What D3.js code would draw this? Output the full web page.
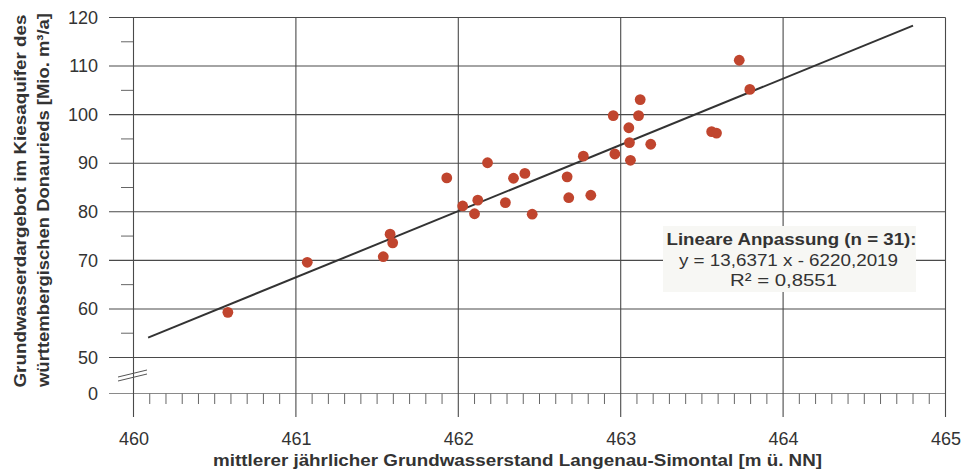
<!DOCTYPE html>
<meta charset="utf-8">
<title>Grundwasserdargebot vs. Grundwasserstand</title>
<style>
    body { margin: 0; background: #fff; }
    svg { display: block; }
    text { font-family: "Liberation Sans", Arial, sans-serif; fill: #333; }
    .tick text { font-size: 18px; }
    .title { font-size: 17px; font-weight: bold; }
    .note { font-size: 17px; }
</style>

<svg width="961" height="470"></svg>

<script src="https://cdn.jsdelivr.net/npm/d3@7"></script>
<script>

    // mittlerer jaehrlicher Grundwasserstand [m ue. NN]
    var xVals = [460.581, 461.07, 461.538, 461.58, 461.596, 461.929, 462.027, 462.10, 462.12, 462.18,
                 462.29, 462.34, 462.41, 462.455, 462.67, 462.68, 462.77, 462.816, 462.964, 463.06,
                 462.954, 463.05, 463.054, 463.11, 463.12, 463.185, 463.56, 463.59, 463.73, 463.795];
    // Grundwasserdargebot [Mio. m3/a]
    var yVals = [59.3, 69.6, 70.75, 75.4, 73.6, 86.98, 81.2, 79.6, 82.4, 90.1,
                 81.9, 86.9, 87.9, 79.5, 87.2, 82.9, 91.45, 83.4, 91.9, 90.6,
                 99.8, 97.3, 94.25, 99.8, 103.1, 93.9, 96.5, 96.2, 111.2, 105.2];

    var xTicks = [460, 461, 462, 463, 464, 465];
    var yTicks = [0, 50, 60, 70, 80, 90, 100, 110, 120];
    var yMinor = [55, 65, 75, 85, 95, 105, 115];

    // regression y = 13,6371 x - 6220,2019
    var slope = 13.6371, intercept = -6220.2019;
    var fitRange = [460.09, 464.8];
    var noteLines = ["Lineare Anpassung (n = 31):", "y = 13,6371 x - 6220,2019", "R² = 0,8551"];

    var svg = d3.select("svg");

    var x = d3.scaleLinear().domain([460, 465]).range([133.5, 945.5]);
    // broken axis: 0 sits below the break, 50..120 linear above
    var y = d3.scaleLinear().domain([0, 50, 120]).range([393.5, 357.5, 17.5]);

    var grid = svg.append("g");

    // horizontal grid lines
    grid.selectAll("line.h")
        .data(yTicks)
        .enter().append("line")
        .attr("x1", 109).attr("x2", x(465))
        .attr("y1", function (d) { return y(d); })
        .attr("y2", function (d) { return y(d); })
        .attr("stroke", function (d) { return d === 0 ? "#8a8a8a" : "#4a4a4a"; })
        .attr("stroke-width", 1.1);

    // y minor ticks
    grid.selectAll("line.ym")
        .data(yMinor)
        .enter().append("line")
        .attr("x1", 121).attr("x2", x(460))
        .attr("y1", function (d) { return y(d); })
        .attr("y2", function (d) { return y(d); })
        .attr("stroke", "#666");

    // vertical grid lines (extend below the axis)
    grid.selectAll("line.v")
        .data(xTicks)
        .enter().append("line")
        .attr("x1", function (d) { return x(d); })
        .attr("x2", function (d) { return x(d); })
        .attr("y1", y(120)).attr("y2", 417)
        .attr("stroke", "#4a4a4a")
        .attr("stroke-width", 1.1);

    // x minor ticks every 0.1
    var xMinor = d3.range(4601, 4650).filter(function (d) { return d % 10 !== 0; })
        .map(function (d) { return d / 10; });
    grid.selectAll("line.xm")
        .data(xMinor)
        .enter().append("line")
        .attr("x1", function (d) { return x(d); })
        .attr("x2", function (d) { return x(d); })
        .attr("y1", y(0)).attr("y2", 404)
        .attr("stroke", "#666");

    // axis break marks
    [0, 4].forEach(function (off) {
        svg.append("line")
            .attr("x1", 118).attr("y1", 377 + off)
            .attr("x2", 147).attr("y2", 370 + off)
            .attr("stroke", "#555");
    });

    // tick labels
    svg.append("g")
        .attr("transform", "translate(109,0)")
        .call(d3.axisLeft(y).tickValues(yTicks).tickSize(0).tickPadding(11))
        .call(function (g) { g.select(".domain").remove(); });

    svg.append("g")
        .attr("transform", "translate(0,417)")
        .call(d3.axisBottom(x).tickValues(xTicks).tickSize(0).tickPadding(15).tickFormat(d3.format("d")))
        .call(function (g) { g.select(".domain").remove(); });

    svg.selectAll(".tick text").attr("fill", "#333");

    // regression line
    var line = d3.line()
        .x(function (d) { return x(d); })
        .y(function (d) { return y(slope * d + intercept); });
    svg.append("path")
        .datum(fitRange)
        .attr("d", line)
        .attr("fill", "none")
        .attr("stroke", "#333")
        .attr("stroke-width", 2);

    // data points
    svg.append("g")
        .selectAll("circle")
        .data(d3.zip(xVals, yVals))
        .enter().append("circle")
        .attr("cx", function (d) { return x(d[0]); })
        .attr("cy", function (d) { return y(d[1]); })
        .attr("r", 5.4)
        .attr("fill", "#c0452e");

    // annotation box
    svg.append("rect")
        .attr("x", 663).attr("y", 226)
        .attr("width", 253).attr("height", 66)
        .attr("fill", "#f7f7f4");

    var noteX = [791.5, 788.5, 783.5], noteLen = [250, 219, 107];
    svg.selectAll("text.note")
        .data(noteLines)
        .enter().append("text")
        .attr("class", function (d, i) { return i === 0 ? "note title" : "note"; })
        .attr("x", function (d, i) { return noteX[i]; })
        .attr("y", function (d, i) { return 245 + i * 20.5; })
        .attr("text-anchor", "middle")
        .attr("textLength", function (d, i) { return noteLen[i]; })
        .attr("lengthAdjust", "spacingAndGlyphs")
        .text(function (d) { return d; });

    // axis titles
    svg.append("text")
        .attr("class", "title")
        .attr("x", 517.5).attr("y", 466)
        .attr("text-anchor", "middle")
        .attr("textLength", 609)
        .attr("lengthAdjust", "spacingAndGlyphs")
        .text("mittlerer jährlicher Grundwasserstand Langenau-Simontal [m ü. NN]");

    svg.append("text")
        .attr("class", "title")
        .attr("transform", "translate(26,201) rotate(-90)")
        .attr("text-anchor", "middle")
        .attr("textLength", 373)
        .attr("lengthAdjust", "spacingAndGlyphs")
        .text("Grundwasserdargebot im Kiesaquifer des");

    svg.append("text")
        .attr("class", "title")
        .attr("transform", "translate(49,200) rotate(-90)")
        .attr("text-anchor", "middle")
        .attr("textLength", 374)
        .attr("lengthAdjust", "spacingAndGlyphs")
        .text("württembergischen Donaurieds [Mio. m³/a]");

</script>
